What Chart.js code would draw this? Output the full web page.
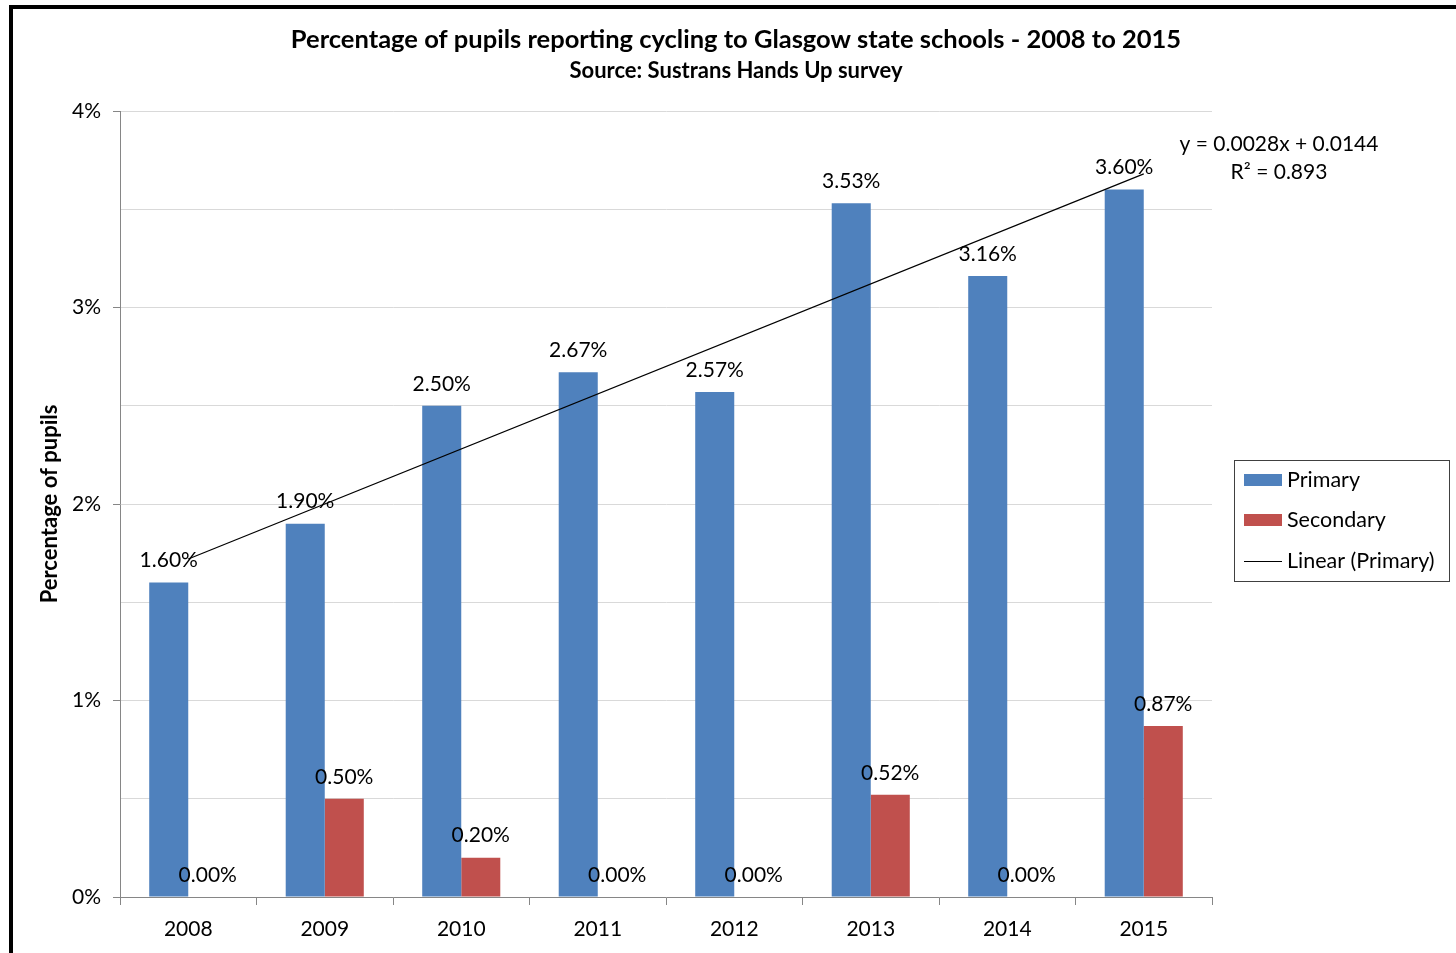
<!DOCTYPE html>
<html>
<head>
  <script src="https://cdn.jsdelivr.net/npm/chart.js@4.4.1/dist/chart.umd.min.js"></script>
  <style>
    html, body { margin: 0; padding: 0; background: #fff; }
    #wrap { width: 1456px; height: 953px; }
  </style>
</head>
<body>
<div id="wrap"><canvas id="cyclingChart"></canvas></div>

<script>
var years = ["2008", "2009", "2010", "2011", "2012", "2013", "2014", "2015"];
var primary = [1.60, 1.90, 2.50, 2.67, 2.57, 3.53, 3.16, 3.60];
var secondary = [0.00, 0.50, 0.20, 0.00, 0.00, 0.52, 0.00, 0.87];
// linear trend of primary, only the two ends (y = 0.0028x + 0.0144)
var trendLine = [1.72, null, null, null, null, null, null, 3.68];
var yTicks = [0, 1, 2, 3, 4];

var blue = "#4f81bd";
var red = "#c0504d";
var FONT = "Lato, 'Open Sans', sans-serif";

// frame, titles, bar labels, trend equation and legend box
var extras = {
  id: "extras",
  beforeDraw: function(chart) {
    var c = chart.ctx;
    c.save();
    c.fillStyle = "#fff";
    c.fillRect(0, 0, chart.width, chart.height);
    c.fillStyle = "#000";
    c.fillRect(9, 5, chart.width - 9, 4);
    c.fillRect(9, 5, 4, chart.height - 5);
    c.restore();
  },
  afterDraw: function(chart) {
    var c = chart.ctx;
    c.save();
    c.fillStyle = "#000";
    c.textAlign = "center";
    c.textBaseline = "middle";
    c.font = "bold 25.5px " + FONT;
    c.fillText("Percentage of pupils reporting cycling to Glasgow state schools - 2008 to 2015", 736, 40);
    c.font = "bold 22px " + FONT;
    c.fillText("Source: Sustrans Hands Up survey", 736, 71);

    // value labels over the bars
    c.font = "21px " + FONT;
    [0, 1].forEach(function(di) {
      var meta = chart.getDatasetMeta(di);
      var vals = chart.data.datasets[di].data;
      meta.data.forEach(function(el, i) {
        c.fillText(vals[i].toFixed(2) + "%", el.x, el.y - 22);
      });
    });

    // trend equation
    c.fillText("y = 0.0028x + 0.0144", 1279, 144);
    c.fillText("R\u00b2 = 0.893", 1279, 172);

    // legend
    c.strokeStyle = "#404040";
    c.lineWidth = 1;
    c.strokeRect(1234.5, 460.5, 215, 121);
    c.textAlign = "left";
    c.font = "21.5px " + FONT;
    var items = chart.data.datasets;
    [0, 1].forEach(function(di, k) {
      var cy = 480 + k * 40;
      c.fillStyle = items[di].backgroundColor;
      c.fillRect(1244, cy - 6, 38, 12);
      c.fillStyle = "#000";
      c.fillText(items[di].label, 1287, cy);
    });
    c.strokeStyle = items[2].borderColor;
    c.beginPath();
    c.moveTo(1244, 561.5);
    c.lineTo(1282, 561.5);
    c.stroke();
    c.fillText(items[2].label, 1287, 561);
    c.restore();
  }
};

var ctx = document.getElementById("cyclingChart").getContext("2d");
var cyclingChart = new Chart(ctx, {
  type: "bar",
  data: {
    labels: years,
    datasets: [{
      label: "Primary",
      data: primary,
      backgroundColor: blue,
      categoryPercentage: 0.572,
      barPercentage: 1.0,
      order: 2
    }, {
      label: "Secondary",
      data: secondary,
      backgroundColor: red,
      categoryPercentage: 0.572,
      barPercentage: 1.0,
      order: 2
    }, {
      type: "line",
      label: "Linear (Primary)",
      data: trendLine,
      spanGaps: true,
      borderColor: "#000",
      backgroundColor: "#000",
      borderWidth: 1.2,
      pointRadius: 0,
      fill: false,
      order: 1
    }]
  },
  options: {
    responsive: true,
    maintainAspectRatio: false,
    animation: false,
    layout: { padding: { top: 111, right: 244, bottom: 0, left: 1 } },
    plugins: {
      legend: { display: false },
      tooltip: { enabled: false }
    },
    scales: {
      x: {
        offset: true,
        grid: {
          offset: true,
          drawOnChartArea: false,
          drawTicks: true,
          tickLength: 8,
          color: "#868686"
        },
        border: { color: "#868686" },
        ticks: { color: "#000", font: { family: FONT, size: 21 }, padding: 12 },
        afterFit: function(scale) { scale.height = 56; }
      },
      y: {
        min: 0,
        max: 4,
        grid: {
          color: "#d9d9d9",
          tickLength: 7,
          tickColor: function(c) {
            return yTicks.indexOf(c.tick.value) >= 0 ? "#868686" : "rgba(0,0,0,0)";
          }
        },
        border: { color: "#868686" },
        ticks: {
          stepSize: 0.5,
          color: "#000",
          padding: 12,
          font: { family: FONT, size: 21 },
          callback: function(v) { return yTicks.indexOf(v) >= 0 ? v + "%" : ""; }
        },
        title: {
          display: true,
          text: "Percentage of pupils",
          color: "#000",
          font: { family: FONT, size: 22, weight: "bold" },
          padding: { top: 36, bottom: 0 }
        },
        afterFit: function(scale) { scale.width = 119; }
      }
    }
  },
  plugins: [extras]
});
</script>
</body>
</html>
